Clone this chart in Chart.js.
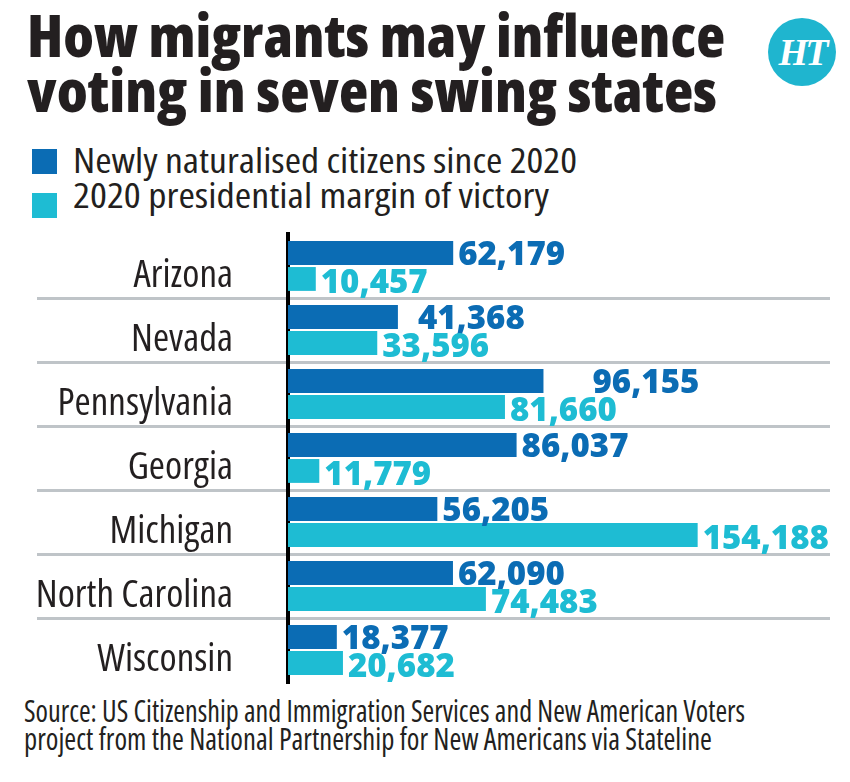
<!DOCTYPE html>
<html><head><meta charset="utf-8">
<script src="https://cdn.jsdelivr.net/npm/chart.js@4.4.1/dist/chart.umd.min.js"></script>
<style>
html,body{margin:0;padding:0;background:#fff;}
body{width:850px;height:782px;position:relative;overflow:hidden;font-family:'Open Sans',sans-serif;font-stretch:75%;color:#231f20;}
.fit{position:absolute;white-space:nowrap;line-height:1;transform-origin:0 0;}
.title{font-weight:800;font-size:59px;}
.leg{font-size:34.5px;font-weight:400;}
.src{font-size:30px;font-weight:400;}
.sw{position:absolute;left:32px;width:25px;height:25px;}
#logo{position:absolute;left:768px;top:18px;width:68px;height:68px;border-radius:50%;background:#1fb5cf;color:#fff;font-family:'Liberation Serif',serif;font-stretch:normal;font-weight:bold;font-style:italic;font-size:38px;text-align:center;line-height:68px;letter-spacing:-3px;}
#chartWrap{position:absolute;left:0;top:225px;width:850px;height:460px;}
</style></head>
<body>
<div class="fit title" id="t1" data-w="698" style="left:27px;top:4.6px;"></div>
<div class="fit title" id="t2" data-w="690" style="left:27px;top:59.6px;"></div>
<div id="logo">HT</div>
<div class="sw" id="sw0" style="top:149px;"></div>
<div class="fit leg" id="l0" data-w="504" style="left:73px;top:142.5px;"></div>
<div class="sw" id="sw1" style="top:193px;"></div>
<div class="fit leg" id="l1" data-w="476" style="left:73px;top:177.5px;"></div>
<div id="chartWrap"><canvas id="c" width="850" height="460" style="width:850px;height:460px;"></canvas></div>
<div class="fit src" id="s1" data-w="721" style="left:24px;top:696.4px;"></div>
<div class="fit src" id="s2" data-w="688" style="left:24px;top:724.4px;"></div>
<script>
// ---- data ----
const titleLines = ['How migrants may influence', 'voting in seven swing states'];
const seriesNames = ['Newly naturalised citizens since 2020', '2020 presidential margin of victory'];
const states = ['Arizona', 'Nevada', 'Pennsylvania', 'Georgia', 'Michigan', 'North Carolina', 'Wisconsin'];
const naturalised = [62179, 41368, 96155, 86037, 56205, 62090, 18377];
const margin2020 = [10457, 33596, 81660, 11779, 154188, 74483, 20682];
const sourceLines = ['Source: US Citizenship and Immigration Services and New American Voters',
  'project from the National Partnership for New Americans via Stateline'];

// ---- styles ----
const DARK = '#0b6cb4';
const CYAN = '#1ebcd3';
const GRID = '#bfc4c8';
const TEXT = '#231f20';
const FONT = "'Open Sans',sans-serif";

document.getElementById('t1').textContent = titleLines[0];
document.getElementById('t2').textContent = titleLines[1];
document.getElementById('l0').textContent = seriesNames[0];
document.getElementById('l1').textContent = seriesNames[1];
document.getElementById('s1').textContent = sourceLines[0];
document.getElementById('s2').textContent = sourceLines[1];
document.getElementById('sw0').style.background = DARK;
document.getElementById('sw1').style.background = CYAN;

document.querySelectorAll('.fit').forEach(el => {
  const w = el.getBoundingClientRect().width;
  const target = parseFloat(el.dataset.w);
  el.style.transform = 'scaleX(' + (target / w) + ')';
});

const condensedText = {
  id: 'condensedText',
  beforeDraw(chart) { chart.ctx.fontStretch = 'condensed'; }
};

const valueLabels = {
  id: 'valueLabels',
  afterDatasetsDraw(chart, args, opts) {
    const ctx = chart.ctx;
    ctx.save();
    ctx.font = opts.weight + ' ' + opts.size + 'px ' + opts.family;
    ctx.fontStretch = opts.stretch;
    ctx.textAlign = 'left';
    ctx.textBaseline = 'alphabetic';
    chart.data.datasets.forEach((ds, di) => {
      const meta = chart.getDatasetMeta(di);
      meta.data.forEach((bar, i) => {
        const shift = opts.shift[di][i] || 0;
        ctx.fillStyle = opts.colors[di];
        ctx.fillText(ds.data[i].toLocaleString('en-US'), bar.x + opts.gap + shift,
          bar.y + opts.size * 0.357 + opts.dy[di]);
      });
    });
    ctx.restore();
  }
};

new Chart(document.getElementById('c'), {
  type: 'bar',
  data: {
    labels: states,
    datasets: [
      { label: seriesNames[0], data: naturalised, backgroundColor: DARK, barPercentage: 0.92, categoryPercentage: 0.81 },
      { label: seriesNames[1], data: margin2020, backgroundColor: CYAN, barPercentage: 0.92, categoryPercentage: 0.81 }
    ]
  },
  options: {
    indexAxis: 'y',
    responsive: false,
    animation: false,
    devicePixelRatio: 1,
    layout: { padding: { left: 0, right: 20, top: 9, bottom: 3 } },
    plugins: {
      legend: { display: false },
      tooltip: { enabled: false },
      valueLabels: {
        size: 33, weight: 800, stretch: 'normal', family: FONT, gap: 5,
        colors: [DARK, CYAN], dy: [0, 2],
        shift: [[0, 15, 44, 0, 0, 0, 0], [0, 0, 0, 0, 0, 0, 0]]
      }
    },
    scales: {
      x: { type: 'linear', min: 0, max: 204000, display: false },
      y: {
        position: 'left',
        afterFit(s) { s.width = 288; },
        grid: {
          offset: true,
          lineWidth: 3,
          tickLength: 251,
          color: c => (c.index === undefined || c.index === 0) ? 'rgba(0,0,0,0)' : GRID
        },
        border: { display: true, color: '#000', width: 4 },
        ticks: { padding: -196, labelOffset: 10, color: TEXT, font: { family: FONT, weight: 'condensed', size: 39 } }
      }
    }
  },
  plugins: [condensedText, valueLabels]
});
</script>
</body></html>
